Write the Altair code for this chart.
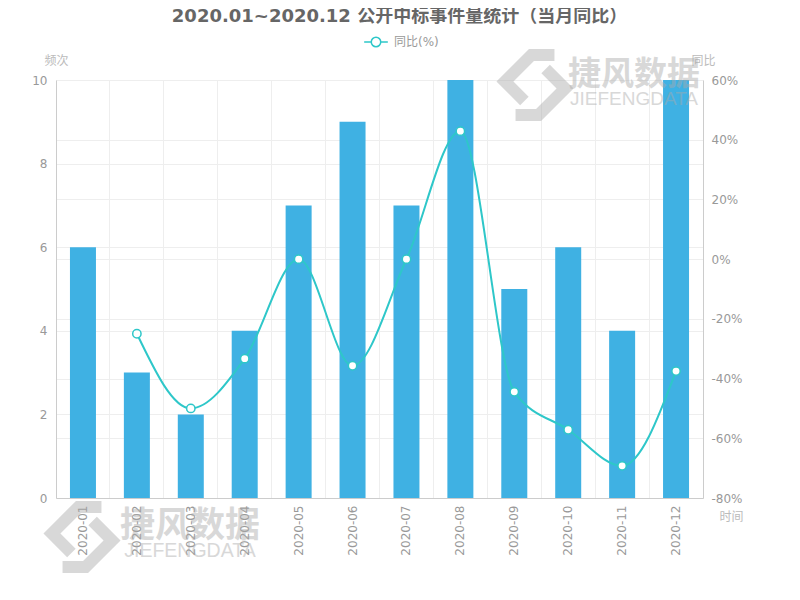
import altair as alt
import pandas as pd

months = ["2020-01", "2020-02", "2020-03", "2020-04", "2020-05", "2020-06",
          "2020-07", "2020-08", "2020-09", "2020-10", "2020-11", "2020-12"]
counts = [6, 3, 2, 4, 7, 9, 7, 10, 5, 6, 4, 10]
yoy = [None, -25.0, -50.0, -33.33, 0.0, -35.71, 0.0, 42.86, -44.44, -57.14, -69.23, -37.5]

FONT = "DejaVu Sans, Noto Sans CJK SC"
BAR = "#3fb1e3"
LINE = "#2ec7c9"
WM = "#aaaaaa"

bar_df = pd.DataFrame({"month": months, "count": counts})
line_df = pd.DataFrame({"month": months, "yoy": yoy, "series": ["同比(%)"] * 12}).dropna()

xenc = alt.X("month:N", sort=months, scale=alt.Scale(paddingInner=0, paddingOuter=0),
             axis=alt.Axis(title="时间", titleAngle=0, titleX=675, titleY=18,
                           titleBaseline="middle", titleAlign="center", titleColor="#bbb",
                           titleFontWeight="normal", titleFontSize=12,
                           labelAngle=-90, labelColor="#999", labelFontSize=12,
                           labelPadding=7, ticks=False, bandPosition=0, grid=True,
                           gridColor="#eeeeee", domainColor="#cccccc"))

bars = alt.Chart(bar_df).mark_bar(size=26, color=BAR).encode(
    x=xenc,
    y=alt.Y("count:Q", scale=alt.Scale(domain=[0, 10], nice=False),
            axis=alt.Axis(title="频次", titleAngle=0, titleX=0, titleY=-20,
                          titleAlign="center", titleBaseline="middle", titleColor="#bbb",
                          titleFontWeight="normal", titleFontSize=12,
                          values=[0, 2, 4, 6, 8, 10], labelColor="#999", labelFontSize=12,
                          labelPadding=9, ticks=False, grid=True, gridColor="#eeeeee",
                          domainColor="#cccccc")),
)

yright = alt.Y("yoy:Q", scale=alt.Scale(domain=[-80, 60], nice=False),
               axis=alt.Axis(title="同比", orient="right", titleAngle=0, titleX=0, titleY=-20,
                             titleAlign="center", titleBaseline="middle", titleColor="#bbb",
                             titleFontWeight="normal", titleFontSize=12,
                             values=[-80, -60, -40, -20, 0, 20, 40, 60],
                             labelExpr="datum.value + '%'", labelColor="#999", labelFontSize=12,
                             labelPadding=8, ticks=False, grid=True, gridColor="#eeeeee",
                             domainColor="#cccccc"))

color = alt.Color("series:N", scale=alt.Scale(range=[LINE]),
                  legend=alt.Legend(title=None, orient="none", legendX=307, legendY=-51,
                                    symbolType="M-1,0L-0.42,0M0.42,0L1,0M0.4,0A0.4,0.4,0,1,1,-0.4,0A0.4,0.4,0,1,1,0.4,0",
                                    symbolSize=560, symbolStrokeWidth=1.5,
                                    symbolFillColor="white", symbolStrokeColor=LINE,
                                    labelColor="#999", labelFontSize=12, labelOffset=5))

line = alt.Chart(line_df).mark_line(interpolate="monotone", strokeWidth=2).encode(
    x=alt.X("month:N", sort=months), y=yright, color=color)

points = alt.Chart(line_df).mark_point(filled=True, size=70, fill="white", stroke=LINE,
                                       strokeWidth=1.5, opacity=1).encode(
    x=alt.X("month:N", sort=months), y=yright)

# watermark (brand name + logo)
LOGO = ("M0.55,-0.85L-0.1,-0.85L-0.85,-0.1L-0.3,0.45"
        "M-0.55,0.85L0.1,0.85L0.85,0.1L0.3,-0.45")
wm_df = pd.DataFrame({"t": ["捷风数据"]})
en_df = pd.DataFrame({"t": ["JIEFENGDATA"]})
logo_df = pd.DataFrame({"k": [1]})


def watermark(cx, cy, big, small, logo_x, logo_y, logo_size):
    t1 = alt.Chart(wm_df).mark_text(font=FONT, fontSize=big, fontWeight="bold", color=WM,
                                    opacity=0.45, align="center", baseline="middle").encode(
        text="t:N", x=alt.value(cx), y=alt.value(cy))
    t2 = alt.Chart(en_df).mark_text(font="Liberation Sans", fontSize=small, color=WM,
                                    opacity=0.45, align="center", baseline="middle").encode(
        text="t:N", x=alt.value(cx), y=alt.value(cy + big * 0.72))
    lg = alt.Chart(logo_df).mark_point(shape=LOGO, filled=False, stroke=WM, strokeWidth=12,
                                       opacity=0.45, size=logo_size).encode(
        x=alt.value(logo_x), y=alt.value(logo_y))
    return [t1, t2, lg]


wm_top = watermark(578, -5, 33, 19, 479, 5, 5000)
wm_bot = watermark(134, 446, 35, 19.5, 26, 457, 5000)

main = alt.layer(bars, alt.layer(line, points)).resolve_scale(y="independent")

chart = alt.layer(main, *wm_top, *wm_bot).properties(
    width=647, height=418,
    autosize=alt.AutoSizeParams(type="none"),
    padding={"left": 48, "top": 72, "right": 88, "bottom": 90},
    title=alt.Title("2020.01~2020.12 公开中标事件量统计（当月同比）", fontSize=18,
                    fontWeight="bold", color="#666", font=FONT, anchor="middle",
                    offset=3, dx=20),
).configure(font=FONT).configure_view(stroke=None)

chart.save("out.html", embed_options={"renderer": "svg", "actions": False})
